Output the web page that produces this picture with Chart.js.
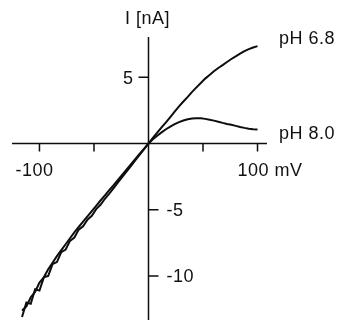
<!DOCTYPE html>
<html><head><meta charset="utf-8">
<script src="https://cdn.jsdelivr.net/npm/chart.js@4/dist/chart.umd.min.js"></script>
<style>html,body{margin:0;padding:0;background:#fff}canvas{display:block}</style>
</head><body>
<canvas id="c" width="342" height="320"></canvas>
<script>
const voltages = [-116,-112,-108,-104,-100,-96,-92,-88,-84,-80,-76,-72,-68,-64,-60,-56,-52,-48,-44,-40,-36,-32,-28,-24,-20,-16,-12,-8,-4,0,4,8,12,16,20,24,28,32,36,40,44,48,52,56,60,64,68,72,76,80,84,88,92,96,100];
const currentPH68 = [-13.1,-12.0,-12.1,-11.0,-11.1,-10.1,-10.0,-9.1,-8.95,-8.2,-8.0,-7.35,-7.1,-6.5,-6.25,-5.75,-5.45,-4.95,-4.62,-4.17,-3.78,-3.36,-2.94,-2.52,-2.1,-1.68,-1.26,-0.84,-0.42,0,0.42,0.83,1.22,1.6,2.0,2.4,2.8,3.17,3.52,3.9,4.24,4.57,4.9,5.17,5.45,5.7,5.92,6.15,6.38,6.58,6.78,6.98,7.12,7.25,7.35];
const currentPH80 = [-12.6,-12.3,-11.6,-11.2,-10.5,-10.1,-9.5,-9.0,-8.5,-8.05,-7.6,-7.15,-6.7,-6.3,-5.9,-5.5,-5.1,-4.7,-4.3,-3.92,-3.52,-3.14,-2.74,-2.34,-1.95,-1.55,-1.16,-0.77,-0.39,0,0.32,0.58,0.84,1.08,1.28,1.46,1.62,1.74,1.83,1.88,1.9,1.9,1.86,1.8,1.73,1.65,1.56,1.48,1.41,1.33,1.25,1.18,1.12,1.08,1.05];
const seriesNames = ['pH 6.8', 'pH 8.0'];
const xTickValues = [-100, -50, 50, 100];
const xTickLabels = ['-100', '', '', '100 mV'];
const yTickValues = [5, -5, -10];
const yTickLabels = ['5', '-5', '-10'];
const yAxisTitle = 'I [nA]';

const INK = '#0d0d0d';
const FONT = '18px "Liberation Sans", Arial, sans-serif';

function toPoints(ys) { return voltages.map((v, i) => ({x: v, y: ys[i]})); }

const crossAxes = {
  id: 'crossAxes',
  beforeDatasetsDraw(chart) {
    const {ctx, chartArea: a, scales: {x, y}} = chart;
    const x0 = x.getPixelForValue(0), y0 = y.getPixelForValue(0);
    ctx.save();
    ctx.strokeStyle = INK; ctx.lineWidth = 1.5; ctx.lineCap = 'butt';
    ctx.beginPath();
    ctx.moveTo(a.left, y0); ctx.lineTo(a.right, y0);
    ctx.moveTo(x0, a.top); ctx.lineTo(x0, a.bottom);
    xTickValues.forEach(v => { const px = x.getPixelForValue(v); ctx.moveTo(px, y0); ctx.lineTo(px, y0 + 8); });
    yTickValues.forEach(v => {
      const py = y.getPixelForValue(v);
      if (v > 0) { ctx.moveTo(x0 - 10, py); ctx.lineTo(x0, py); }
      else { ctx.moveTo(x0, py); ctx.lineTo(x0 + 10, py); }
    });
    ctx.stroke();
    ctx.restore();
  },
  afterDraw(chart) {
    const {ctx, chartArea: a, scales: {x, y}} = chart;
    const x0 = x.getPixelForValue(0), y0 = y.getPixelForValue(0);
    ctx.save();
    ctx.fillStyle = '#111';
    ctx.font = FONT;
    try { ctx.letterSpacing = '0.5px'; } catch (e) {}
    ctx.textBaseline = 'alphabetic';
    xTickValues.forEach((v, i) => {
      const t = xTickLabels[i]; if (!t) return;
      const px = x.getPixelForValue(v);
      if (t.indexOf(' ') >= 0) { ctx.textAlign = 'left'; ctx.fillText(t, px - 20, y0 + 32); }
      else { ctx.textAlign = 'center'; ctx.fillText(t, px - 5, y0 + 32); }
    });
    ctx.textBaseline = 'middle';
    yTickValues.forEach((v, i) => {
      const py = y.getPixelForValue(v);
      if (v > 0) { ctx.textAlign = 'right'; ctx.fillText(yTickLabels[i], x0 - 15, py + 2); }
      else { ctx.textAlign = 'left'; ctx.fillText(yTickLabels[i], x0 + 18, py + 1); }
    });
    ctx.textBaseline = 'alphabetic';
    ctx.textAlign = 'center';
    ctx.fillText(yAxisTitle, x0 - 1, a.top - 13);
    ctx.textAlign = 'left';
    ctx.fillText(seriesNames[0], a.right + 12, a.top + 7);
    ctx.fillText(seriesNames[1], a.right + 12, y0 - 5);
    ctx.restore();
  }
};

new Chart(document.getElementById('c'), {
  type: 'line',
  data: {
    datasets: [
      {label: seriesNames[0], data: toPoints(currentPH68), borderColor: INK, borderWidth: 2, pointRadius: 0, tension: 0, fill: false},
      {label: seriesNames[1], data: toPoints(currentPH80), borderColor: INK, borderWidth: 2, pointRadius: 0, tension: 0, fill: false}
    ]
  },
  options: {
    responsive: false,
    animation: false,
    layout: {padding: {left: 12, right: 75, top: 37, bottom: 0}},
    plugins: {legend: {display: false}, tooltip: {enabled: false}},
    scales: {
      x: {type: 'linear', min: -125.2, max: 108.7, display: false},
      y: {type: 'linear', min: -13.32, max: 8.04, display: false}
    }
  },
  plugins: [crossAxes]
});
</script>
</body></html>
